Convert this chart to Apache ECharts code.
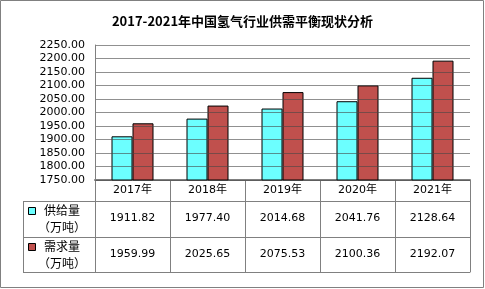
<!DOCTYPE html>
<html><head><meta charset="utf-8">
<script src="https://cdn.jsdelivr.net/npm/echarts@6/dist/echarts.min.js"></script>
<style>html,body{margin:0;padding:0;background:#fff}#c{width:485px;height:289px}</style>
</head><body><div id="c"></div>
<script>
const categories = ['2017年','2018年','2019年','2020年','2021年'];
const supply = [1911.82, 1977.40, 2014.68, 2041.76, 2128.64];
const demand = [1959.99, 2025.65, 2075.53, 2100.36, 2192.07];
const seriesNames = ['供给量', '需求量'];
const unitLabel = '（万吨）';
const titleText = '2017-2021年中国氢气行业供需平衡现状分析';
const yMin = 1750, yMax = 2250, yStep = 50;

const colors = ['#6CFFFF', '#C0504D'];
const numFont = "'DejaVu Sans', 'Noto Sans CJK SC', sans-serif";
const cjkFont = "'Noto Sans CJK SC', sans-serif";
const gridLeft = 95, gridRight = 470, gridTop = 45, gridBottom = 180;
const rowH = [21, 36, 35];
const tableLeft = 23;
const frame = '#808080';

const chart = echarts.init(document.getElementById('c'), null, {renderer: 'canvas'});
const fmt = v => v.toFixed(2);
const r1 = gridBottom + rowH[0], r2 = r1 + rowH[1], r3 = r2 + rowH[2];

const baseX = {
  type: 'category', gridIndex: 0, position: 'bottom',
  axisTick: {show: false}, splitLine: {show: false},
  axisLine: {show: true, lineStyle: {color: frame, width: 1}}
};

const graphics = [
  {type: 'rect', shape: {x: 0.5, y: 0.5, width: 483, height: 287}, style: {fill: null, stroke: frame, lineWidth: 1}, silent: true},
  {type: 'line', shape: {x1: tableLeft, y1: r1 + 0.5, x2: gridLeft, y2: r1 + 0.5}, style: {stroke: frame, lineWidth: 1}},
  {type: 'line', shape: {x1: tableLeft, y1: r2 + 0.5, x2: gridLeft, y2: r2 + 0.5}, style: {stroke: frame, lineWidth: 1}},
  {type: 'line', shape: {x1: tableLeft, y1: r3 + 0.5, x2: gridLeft, y2: r3 + 0.5}, style: {stroke: frame, lineWidth: 1}},
  {type: 'line', shape: {x1: tableLeft + 0.5, y1: r1, x2: tableLeft + 0.5, y2: r3 + 1}, style: {stroke: frame, lineWidth: 1}}
];
[[r1, r2], [r2, r3]].forEach((rr, i) => {
  const top = rr[0], h = rr[1] - rr[0];
  graphics.push({type: 'rect', shape: {x: 28.5, y: top + 6.5, width: 7, height: 7},
    style: {fill: colors[i], stroke: '#000', lineWidth: 1}});
  graphics.push({type: 'text', x: 44, y: top + 9.5, style: {text: seriesNames[i], font: '12px ' + cjkFont, fill: '#000', verticalAlign: 'middle'}});
  graphics.push({type: 'text', x: 38, y: top + 26, style: {text: unitLabel, font: '12px ' + cjkFont, fill: '#000', verticalAlign: 'middle'}});
});

chart.setOption({
  animation: false,
  title: {text: titleText, left: 'center', top: 10,
    textStyle: {fontSize: 13, fontWeight: 'bold', color: '#000', fontFamily: cjkFont}},
  grid: {left: gridLeft, right: 485 - gridRight, top: gridTop, bottom: 289 - gridBottom},
  xAxis: [
    Object.assign({}, baseX, {data: categories,
      axisLine: {show: true, lineStyle: {color: frame, width: 2}},
      axisTick: {show: true, length: r3 - gridBottom, lineStyle: {color: frame, width: 1}},
      axisLabel: {margin: 5, fontSize: 11, color: '#000', fontFamily: numFont}}),
    Object.assign({}, baseX, {offset: rowH[0], data: supply.map(fmt),
      axisLabel: {margin: 12, fontSize: 11, color: '#000', fontFamily: numFont}}),
    Object.assign({}, baseX, {offset: rowH[0] + rowH[1], data: demand.map(fmt),
      axisLabel: {margin: 12, fontSize: 11, color: '#000', fontFamily: numFont}}),
    Object.assign({}, baseX, {offset: rowH[0] + rowH[1] + rowH[2], data: categories,
      axisLabel: {show: false}})
  ],
  yAxis: {
    type: 'value', min: yMin, max: yMax, interval: yStep, z: 5,
    axisLine: {show: true, lineStyle: {color: frame, width: 1}},
    axisTick: {show: false},
    axisLabel: {formatter: v => v.toFixed(2), fontSize: 11, color: '#000', fontFamily: numFont, margin: 10},
    splitLine: {show: true, lineStyle: {color: 'rgba(70,70,70,0.6)', width: 1}}
  },
  series: [
    {name: seriesNames[0], type: 'bar', data: supply, barGap: '0%', barCategoryGap: '44%',
      itemStyle: {color: colors[0], borderColor: '#000', borderWidth: 1}},
    {name: seriesNames[1], type: 'bar', data: demand,
      itemStyle: {color: colors[1], borderColor: '#000', borderWidth: 1}}
  ],
  graphic: graphics
});
</script></body></html>
